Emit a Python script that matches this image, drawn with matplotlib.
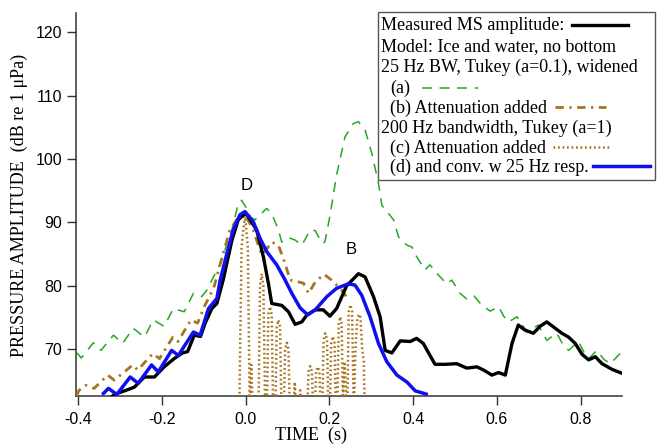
import matplotlib.pyplot as plt
from matplotlib.lines import Line2D
from matplotlib.patches import Rectangle

plt.rcParams['axes.unicode_minus'] = False

# measured MS amplitude (dB re 1 uPa) vs time (s)
meas_t = [-0.318, -0.312, -0.286, -0.266, -0.242, -0.218, -0.195, -0.171, -0.151, -0.139,
          -0.123, -0.108, -0.097, -0.081, -0.069, -0.054, -0.033, -0.018, 0.000, 0.026,
          0.042, 0.054, 0.062, 0.086, 0.102, 0.118, 0.134, 0.146, 0.166, 0.185,
          0.201, 0.217, 0.241, 0.269, 0.285, 0.305, 0.321, 0.333, 0.349, 0.369,
          0.393, 0.408, 0.424, 0.452, 0.476, 0.504, 0.528, 0.552, 0.568, 0.588,
          0.604, 0.620, 0.636, 0.651, 0.667, 0.687, 0.703, 0.719, 0.739, 0.755,
          0.771, 0.787, 0.803, 0.819, 0.835, 0.851, 0.875, 0.898]
meas_db = [62.6, 62.9, 63.5, 64.0, 65.6, 65.6, 67.2, 68.5, 69.4, 69.6,
           72.2, 72.0, 74.1, 76.4, 77.2, 80.9, 87.2, 90.4, 91.5, 88.8,
           84.6, 80.4, 77.2, 76.9, 75.9, 73.9, 74.3, 75.4, 76.2, 76.2,
           75.2, 76.4, 80.0, 81.9, 81.4, 78.3, 75.1, 69.8, 69.4, 71.3,
           71.2, 71.7, 70.9, 67.6, 67.6, 67.7, 67.0, 67.2, 66.7, 65.9,
           66.3, 65.9, 70.9, 73.8, 73.0, 72.5, 73.6, 74.3, 73.3, 72.5,
           71.9, 70.9, 69.2, 68.3, 68.8, 67.7, 66.8, 66.2]

# (a) 25 Hz BW, Tukey (a=0.1), widened
a_t = [-0.403, -0.393, -0.364, -0.346, -0.316, -0.294, -0.269, -0.242, -0.221, -0.195,
       -0.173, -0.147, -0.125, -0.105, -0.093, -0.061, -0.033, -0.018, -0.010, 0.002,
       0.012, 0.022, 0.042, 0.050, 0.062, 0.078, 0.086, 0.096, 0.106, 0.118,
       0.134, 0.154, 0.166, 0.182, 0.189, 0.201, 0.217, 0.237, 0.257, 0.269,
       0.285, 0.301, 0.317, 0.325, 0.341, 0.353, 0.365, 0.385, 0.397, 0.408,
       0.428, 0.440, 0.460, 0.480, 0.492, 0.512, 0.528, 0.545, 0.564, 0.584,
       0.604, 0.616, 0.628, 0.648, 0.660, 0.671, 0.699, 0.709, 0.719, 0.743,
       0.757, 0.771, 0.795, 0.807, 0.819, 0.839, 0.855, 0.871, 0.894]
a_db = [69.4, 68.6, 71.0, 69.8, 72.2, 70.9, 73.3, 71.9, 74.6, 73.6,
        76.4, 75.9, 78.8, 78.3, 79.3, 83.5, 88.8, 93.0, 93.5, 92.2,
        90.8, 90.4, 91.7, 92.2, 91.4, 88.8, 86.9, 87.4, 87.5, 87.2,
        86.4, 88.8, 88.7, 86.7, 86.9, 91.0, 97.5, 103.5, 105.6, 105.9,
        104.6, 100.9, 96.2, 92.7, 91.4, 90.4, 87.7, 86.4, 86.1, 84.6,
        82.5, 83.3, 81.7, 80.3, 80.9, 78.8, 77.9, 78.4, 76.9, 76.0,
        76.7, 75.2, 74.3, 75.1, 73.9, 72.7, 73.8, 72.5, 71.4, 72.5,
        70.8, 69.8, 71.2, 69.6, 68.5, 69.8, 68.4, 67.7, 69.3]

# (b) attenuation added
b_t = [-0.405, -0.398, -0.382, -0.362, -0.330, -0.314, -0.270, -0.258, -0.222, -0.206,
       -0.174, -0.162, -0.131, -0.115, -0.097, -0.085, -0.075, -0.065, -0.038, -0.014,
       -0.002, 0.018, 0.034, 0.040, 0.050, 0.062, 0.078, 0.094, 0.106, 0.126,
       0.138, 0.150, 0.166, 0.187, 0.205, 0.229, 0.240]
b_db = [62.6, 63.5, 64.3, 63.8, 65.9, 65.1, 67.5, 66.7, 69.3, 68.5,
        71.9, 71.2, 74.6, 74.1, 77.0, 78.5, 80.0, 82.5, 88.8, 91.2,
        91.3, 88.8, 85.6, 84.9, 85.8, 86.9, 86.4, 83.5, 80.9, 80.6,
        80.4, 78.8, 80.6, 81.8, 80.9, 79.3, 78.3]

# (c) 200 Hz bandwidth, Tukey (a=1), attenuation added
c_t = [-0.016, -0.010, -0.002, 0.005, 0.010, 0.013, 0.018, 0.030, 0.034, 0.038,
       0.042, 0.047, 0.050, 0.054, 0.058, 0.062, 0.066, 0.070, 0.074, 0.078,
       0.082, 0.086, 0.090, 0.094, 0.098, 0.102, 0.106, 0.112, 0.117, 0.122,
       0.126, 0.130, 0.134, 0.146, 0.150, 0.154, 0.158, 0.162, 0.164, 0.168,
       0.172, 0.176, 0.180, 0.182, 0.186, 0.190, 0.194, 0.198, 0.200, 0.204,
       0.208, 0.212, 0.216, 0.218, 0.222, 0.226, 0.229, 0.232, 0.236, 0.240,
       0.242, 0.246, 0.250, 0.254, 0.258, 0.262, 0.266, 0.270, 0.274, 0.278,
       0.282, 0.285]
c_db = [58.0, 86.0, 91.3, 86.0, 58.0, 67.5, 58.0, 58.0, 80.0, 81.9,
        80.0, 58.0, 58.0, 75.5, 76.7, 75.5, 58.0, 58.0, 73.5, 74.6,
        73.5, 58.0, 58.0, 70.0, 71.0, 70.0, 58.0, 58.0, 64.8, 58.0,
        58.0, 63.5, 58.0, 58.0, 66.5, 67.3, 66.5, 58.0, 58.0, 66.5,
        67.2, 66.5, 58.0, 58.0, 71.5, 72.5, 71.5, 58.0, 58.0, 71.0,
        72.0, 71.0, 58.0, 58.0, 74.0, 75.1, 74.0, 62.0, 68.0, 62.0,
        58.0, 76.0, 77.0, 76.0, 60.0, 70.0, 74.5, 75.5, 75.0, 70.0,
        68.0, 58.0]

# (d) and conv. w 25 Hz resp.
d_t = [-0.340, -0.328, -0.308, -0.276, -0.257, -0.225, -0.209, -0.177, -0.161, -0.125,
       -0.109, -0.089, -0.069, -0.061, -0.045, -0.030, -0.014, -0.002, 0.018, 0.034,
       0.050, 0.074, 0.094, 0.110, 0.130, 0.148, 0.166, 0.194, 0.217, 0.245,
       0.261, 0.277, 0.297, 0.317, 0.337, 0.361, 0.385, 0.405, 0.416, 0.431]
d_db = [63.0, 63.8, 62.85, 65.6, 64.6, 67.5, 66.4, 69.8, 69.0, 72.7,
        72.2, 76.4, 78.0, 80.9, 85.1, 88.8, 91.2, 91.7, 90.1, 87.5,
        85.4, 83.3, 80.9, 78.8, 76.5, 75.4, 76.2, 78.3, 79.6, 80.3,
        80.1, 78.5, 75.1, 70.9, 68.0, 65.9, 64.8, 63.4, 63.2, 62.9]

x_ticks = [-0.4, -0.2, 0.0, 0.2, 0.4, 0.6, 0.8]
x_labels = ['-0.4', '-0.2', '0.0', '0.2', '0.4', '0.6', '0.8']
y_ticks = [70, 80, 90, 100, 110, 120]

green = '#24a824'
brown = '#a8741e'
blue = '#1010ee'

W, H = 661, 444
fig = plt.figure(figsize=(W / 100, H / 100), dpi=100)
ax = fig.add_axes([76 / W, 1 - 396 / H, (621.7 - 76) / W, (396 - 13.3) / H])

ax.plot(a_t, a_db, color=green, lw=1.1, ls=(0, (6.5, 5)), zorder=2)
ax.plot(b_t, b_db, color=brown, lw=2.0, ls=(0, (3, 2, 0.8, 2)), zorder=3)
ax.plot(c_t, c_db, color=brown, lw=1.8, ls=(0, (0.7, 1.1)), zorder=3)
ax.plot(meas_t, meas_db, color='black', lw=2.4, zorder=4)
ax.plot(d_t, d_db, color=blue, lw=2.5, zorder=5)

ax.set_xlim(-0.4055, 0.898)
ax.set_ylim(62.6, 123.0)
ax.set_xticks(x_ticks)
ax.set_xticklabels(x_labels)
ax.set_yticks(y_ticks)
for s in ['top', 'right']:
    ax.spines[s].set_visible(False)
for s in ['left', 'bottom']:
    ax.spines[s].set_linewidth(1.1)
    ax.spines[s].set_color('#333333')
ax.tick_params(direction='out', length=6.5, width=1.0, color='#333333',
               labelsize=11.5, labelcolor='black')
ax.tick_params(axis='x', pad=5)
ax.tick_params(axis='y', pad=3.5)
for lab in ax.get_xticklabels() + ax.get_yticklabels():
    lab.set_family('Liberation Sans')

ax.text(0.002, 95.9, 'D', family='Liberation Sans', fontsize=12, ha='center', va='center')
ax.text(0.253, 85.7, 'B', family='Liberation Sans', fontsize=12, ha='center', va='center')

fig.text(19 / W, 1 - 205.6 / H, 'PRESSURE AMPLITUDE  (dB re 1 \u03bcPa)', rotation=90,
         family='Liberation Serif', fontsize=13, ha='center', va='center')
fig.text(311 / W, 1 - 435 / H, 'TIME  (s)', family='Liberation Serif', fontsize=13,
         ha='center', va='center')

# key box with text rows and sample lines
fig.patches.append(Rectangle((377.7 / W, 1 - 180 / H), (655 - 377.7) / W, (180 - 11.7) / H,
                             transform=fig.transFigure, facecolor='white',
                             edgecolor='#555555', lw=1.0, zorder=10))
rows = [
    (381, 'Measured MS amplitude:'),
    (381, 'Model: Ice and water, no bottom'),
    (381, '25 Hz BW, Tukey (a=0.1), widened'),
    (390, '(a)'),
    (390, '(b) Attenuation added'),
    (381, '200 Hz bandwidth, Tukey (a=1)'),
    (390, '(c) Attenuation added'),
    (390, '(d) and conv. w 25 Hz resp.'),
]
row_y = [25, 45.7, 66.7, 87.5, 107.5, 127.5, 147, 166]
for (x0, txt), y0 in zip(rows, row_y):
    fig.text(x0 / W, 1 - (y0 + 1) / H, txt, family='Liberation Serif', fontsize=13,
             ha='left', va='center', zorder=11)

samples = [
    (571.7, 628, 25, dict(color='black', lw=2.4)),
    (421.7, 478, 87.5, dict(color=green, lw=1.1, ls=(0, (6.5, 5)))),
    (555, 606, 107.5, dict(color=brown, lw=2.0, ls=(0, (3, 2, 0.8, 2)))),
    (553, 610, 147, dict(color=brown, lw=1.8, ls=(0, (0.7, 1.1)))),
    (593, 650, 166, dict(color=blue, lw=2.5)),
]
for x0, x1, y0, kw in samples:
    fig.lines.append(Line2D([x0 / W, x1 / W], [1 - y0 / H, 1 - y0 / H],
                            transform=fig.transFigure, zorder=11, **kw))

fig.savefig('out.png', dpi=100)
